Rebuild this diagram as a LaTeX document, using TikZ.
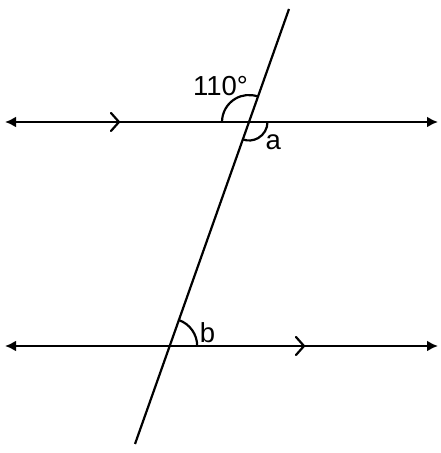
\documentclass[tikz,border=0pt]{standalone}
\usepackage{fontspec}
\setmainfont{Liberation Sans}
\usetikzlibrary{arrows.meta}

\begin{document}
\begin{tikzpicture}[x=1pt,y=1pt,line width=2.2pt,
	ends/.style={{Latex[length=11pt,width=11pt]}-{Latex[length=11pt,width=11pt]}},
	angle/.style={font=\fontsize{27.5}{27.5}\selectfont, inner sep=0pt}]
	%\draw[help lines] (0,0) grid[step=50] (441,453);
	\useasboundingbox (0,0) rectangle (441,453);
	\coordinate (l1) at (5,331);
	\coordinate (r1) at (438,331);
	\coordinate (l2) at (5,107);
	\coordinate (r2) at (438,107);
	\coordinate (top) at (289,444);
	\coordinate (bot) at (135,9);
	\coordinate (P) at (249,331);
	\coordinate (Q) at (169.7,107);
	\coordinate (m1) at (119,331);
	\coordinate (m2) at (304,107);
	% parallel lines
	\draw[ends] (l1) -- (r1);
	\draw[ends] (l2) -- (r2);
	\draw (top) -- (bot);
	% marks for parallel
	\draw[line cap=round] ([shift={(-8pt,9pt)}]m1) -- (m1) -- ([shift={(-8pt,-9pt)}]m1);
	\draw[line cap=round] ([shift={(-8pt,9pt)}]m2) -- (m2) -- ([shift={(-8pt,-9pt)}]m2);
	% angles
	\draw ([shift={(180:27pt)}]P) arc[start angle=180, end angle=70.5, radius=27pt];
	\draw ([shift={(0:18.5pt)}]P) arc[start angle=0, end angle=-109.5, radius=18.5pt];
	\draw ([shift={(0:27.5pt)}]Q) arc[start angle=0, end angle=70.5, radius=27.5pt];
	\node[angle] (k110) at (220.5,366.6) {110°};
	\node[angle] (ka) at (273.3,310.5) {a};
	\node[angle] (kb) at (207.5,120) {b};
\end{tikzpicture}
\end{document}
